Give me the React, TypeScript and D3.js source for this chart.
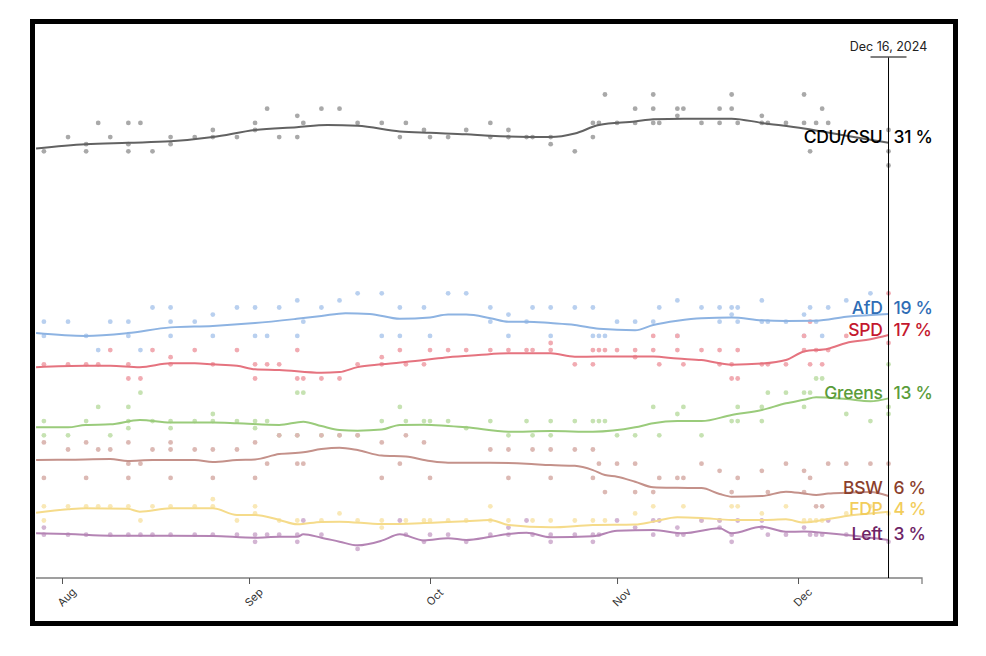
import React, { useEffect, useRef } from 'react';
import * as d3 from 'd3';

type Pt = [number, number]; // [days since Aug 1 2024, percent]

// polls (dots)
const cduPolls: Pt[] = [[-3,30],[1,31],[4,30.5],[4,30],[6,32],[8,31],[11,32],[11,30.5],[11,30],[13,32],[15,30],[18,31],[18,30.5],[22,31],[25,31.5],[25,31],[29,31],[32,32],[32,31.5],[34,33],[36,31],[39,32.5],[39,31],[40,32],[43,33],[46,33],[49,32],[53,32],[56,31],[57,32],[60,31.5],[61,31],[64,31],[67,31.5],[71,32],[71,31],[74,31.5],[74,31],[77,31],[78,31],[81,31],[81,30.5],[85,30],[88,32],[88,31],[89,32],[90,34],[92,32],[95,33],[95,32],[98,34],[98,33],[98,32],[99,32],[102,33],[102,32.5],[103,33],[106,32],[109,33],[109,32],[111,34],[111,33],[112,32],[116,32.5],[116,32],[117,32],[120,32],[123,34],[123,32],[124,30],[125,32],[126,33],[127,32],[137,31.5],[137,30],[137,29]];
const afdPolls: Pt[] = [[-3,18],[-3,17],[1,18],[4,17],[6,16],[8,18],[11,18],[11,17],[13,16],[15,19],[18,19],[18,18],[18,17],[22,18],[25,18.5],[25,17],[29,19],[32,19],[32,17],[34,17],[36,19],[39,19.5],[39,17],[40,18],[43,19],[46,19.5],[49,20],[53,20],[53,17],[56,19],[56,17],[60,19],[61,17],[64,20],[67,20],[71,19],[71,18],[74,18.5],[74,17],[77,18],[78,19],[81,19],[81,17],[85,19],[88,19],[88,17],[89,17],[90,17],[92,18],[95,18],[98,18],[99,19],[102,19.5],[102,17],[106,19],[109,19],[109,18],[111,19],[111,18.5],[112,19],[112,18],[116,19.5],[116,18],[117,18],[120,18],[123,18.5],[123,17],[124,19],[125,18],[126,17],[127,19],[130,19.5],[134,20]];
const spdPolls: Pt[] = [[-3,15],[1,15],[4,15],[6,15],[8,16],[11,15],[11,14],[13,14],[15,16],[18,15.5],[18,15],[22,16],[25,15],[29,16],[32,15],[32,14],[34,15],[36,15],[39,16],[39,14],[40,14],[43,14],[46,14],[49,15],[53,15.5],[53,15],[56,16],[57,15],[60,15],[61,16],[64,16],[67,16],[71,16],[74,16],[77,16],[78,16],[81,16],[81,16.5],[85,15],[88,16],[88,15],[89,16],[90,16],[92,16],[95,16],[95,15.5],[98,17],[98,16],[99,15],[102,16],[102,17],[103,15],[106,16],[109,16],[109,15],[111,14],[111,15],[112,14],[112,16],[116,15],[117,15],[120,15],[123,17],[123,16],[124,18],[124,15],[125,16],[126,15],[127,16],[130,17],[137,20],[137,16.5]];
const greensPolls: Pt[] = [[-3,11],[-3,10],[1,10],[4,11],[6,12],[8,10],[11,12],[11,11],[11,10.5],[13,13],[15,11],[18,11],[18,10.5],[22,11],[25,11.5],[25,11],[29,11],[32,11],[32,10.5],[34,11],[36,10],[39,13],[39,10],[40,13],[43,10],[46,10],[49,10],[53,11],[56,12],[57,11],[60,11],[61,11],[64,11],[67,10.5],[71,11],[74,10],[77,11],[78,10],[81,11],[81,10],[85,11],[88,11],[89,11],[90,11],[92,10],[95,10],[98,12],[99,10],[102,11.5],[103,12],[106,10],[111,11],[112,12],[112,11],[116,12],[116,11],[117,13],[120,13],[123,13],[123,12],[124,13],[125,14],[126,14],[130,11.5],[134,11],[137,15],[137,12],[137,11.5]];
const bswPolls: Pt[] = [[-3,9.5],[-3,7],[1,9],[4,9.5],[4,7],[6,9],[8,9],[11,9.5],[11,8],[11,7],[13,8],[15,9],[18,9.5],[18,9],[18,7],[22,9],[25,9],[25,7],[29,9],[32,9.5],[32,7],[34,8],[36,10],[39,10],[39,8],[40,8],[43,10],[46,10],[49,10],[53,9.5],[53,7],[56,8],[57,10],[60,9.5],[61,7],[71,9],[74,9],[74,7],[78,9],[81,9],[81,7],[85,9],[88,9],[88,7],[89,8],[90,6],[92,8],[95,8],[95,6],[98,6],[99,7],[102,7],[103,7],[106,8],[109,7.5],[111,6],[112,7],[116,7.5],[117,6],[120,8],[123,7.5],[123,6],[124,7],[125,5],[126,5],[127,8],[130,8],[134,8],[137,8]];
const fdpPolls: Pt[] = [[-3,5],[-3,4],[1,5],[4,5],[6,5],[8,5],[11,5],[13,4],[15,5],[18,5],[22,5],[25,5.5],[25,5],[29,4],[32,5],[32,4.5],[36,4],[39,4],[43,4],[46,4.5],[49,4],[53,4],[53,3.5],[57,4],[60,4],[61,4],[64,4],[67,4],[71,5],[71,4],[74,4],[78,4],[81,4],[85,4],[88,4],[90,4],[95,4.5],[98,5],[103,5],[106,4],[109,4],[111,5],[112,5],[116,4.5],[120,5],[123,4],[124,4],[125,4],[126,4],[130,4.5],[134,5],[137,4.5]];
const leftPolls: Pt[] = [[-3,3.5],[-3,3],[1,3],[4,3],[8,3],[11,3],[13,3],[15,3],[18,3],[22,3],[25,3],[29,3],[32,3],[32,2.5],[34,3],[36,3],[39,3],[39,2.5],[40,4],[43,3],[49,2],[56,4],[57,3],[60,2.5],[61,3],[64,3],[67,2.5],[71,3],[74,3.5],[74,3],[77,4],[78,3],[81,3],[81,2.5],[85,3],[88,3],[88,2.5],[89,3],[92,4],[95,3.5],[98,4],[98,3],[99,4],[102,3.5],[102,3],[103,3],[106,4],[109,4],[109,3.5],[111,3],[111,2.5],[112,4],[116,4],[116,3.5],[117,3],[120,3],[123,3.5],[124,3],[125,3],[126,3],[127,4],[130,3],[137,2.5]];

// smoothed trend lines
const cduTrend: Pt[] = [[-4.3,30.2],[3.9,30.5],[10.9,30.6],[18,30.7],[25,31],[32,31.5],[38.9,31.7],[44,31.85],[49,31.8],[56,31.4],[61,31.3],[67,31.2],[71,31.1],[81,31],[85,31.25],[89,31.85],[95,32.1],[98,32.25],[103,32.3],[111,32.3],[116,32],[123,31.6],[130,31.1],[137,30.6]];
const afdTrend: Pt[] = [[-4.3,17.2],[3.9,17],[10.9,17.2],[18,17.6],[25,17.7],[32,17.9],[38.9,18.2],[43,18.4],[47,18.6],[51,18.55],[56,18.2],[61,18.3],[64,18.5],[67,18.5],[71,18.25],[74,18],[77,18],[81,17.9],[85,17.77],[89,17.5],[95,17.4],[98,17.77],[102,18.07],[106,18.25],[111,18.3],[116,18.1],[120,18.05],[125,18.07],[130,18.35],[137,18.55]];
const spdTrend: Pt[] = [[-4.3,14.8],[3.9,14.9],[8,14.9],[12.9,14.8],[18,15.07],[22,15.07],[25,15],[29,14.9],[32,14.65],[36,14.6],[43,14.4],[46,14.45],[49,14.8],[53,15],[60,15.3],[64,15.5],[69,15.65],[74,15.77],[81,15.77],[85,15.53],[89,15.55],[98,15.55],[102,15.4],[106,15.3],[111,14.97],[116,15.05],[120,15.3],[123,15.9],[127,16.1],[130,16.5],[134,16.76],[137,17.06]];
const greensTrend: Pt[] = [[-4.3,10.56],[1,10.56],[3.9,10.73],[8,10.77],[12.9,11.08],[18,10.9],[25,10.9],[29,10.85],[36,10.73],[40,10.96],[43,10.65],[46,10.37],[49,10.32],[53,10.4],[56,10.73],[60,10.75],[64,10.65],[67,10.56],[74,10.25],[81,10.3],[88,10.25],[95,10.56],[98,10.85],[102,11],[106,11],[111,11.43],[116,11.78],[120,12.25],[123,12.5],[125,12.68],[130,12.55],[134,12.4],[137,12.6]];
const bswTrend: Pt[] = [[-4.3,8.26],[1,8.28],[8,8.33],[10.9,8.19],[15,8.26],[22,8.26],[25,8.12],[29,8.26],[32,8.3],[36,8.68],[40,8.8],[43,9.03],[46,9.13],[49,8.96],[53,8.57],[57,8.5],[61,8.19],[64,8.07],[71,8.07],[77,8],[81,7.9],[85,7.85],[88,7.55],[90,7.2],[92,7.08],[95,6.73],[98,6.34],[102,6.3],[106,6.28],[109,5.87],[111,5.68],[116,5.72],[120,6.03],[123,5.9],[125,5.8],[127,5.9],[130,5.95],[134,6],[137,5.73]];
const fdpTrend: Pt[] = [[-4.3,4.55],[1,4.79],[3.9,4.86],[10.9,4.82],[12.9,4.62],[18,4.86],[25,4.86],[29,4.39],[32,4.39],[36,4.04],[39,3.73],[43,3.9],[46,3.92],[53,3.75],[60,3.82],[67,3.95],[71,4.04],[74,3.68],[81,3.52],[88,3.68],[95,3.72],[98,3.92],[102,4.23],[106,4.18],[111,4.04],[116,4.04],[120,4.08],[123,3.86],[127,4.1],[130,4.32],[134,4.5],[137,4.62]];
const leftTrend: Pt[] = [[-4.3,3.1],[1,3.05],[8,2.93],[18,2.93],[25,2.91],[32,2.79],[36,2.85],[39,2.85],[40,3.03],[43,2.79],[46,2.51],[49,2.25],[53,2.58],[56,3.03],[60,2.6],[64,2.75],[67,2.63],[71,2.85],[74,3.05],[77,3.14],[81,2.82],[88,2.89],[92,3.28],[98,3.33],[103,3.1],[109,3.45],[111,3.1],[116,3.56],[120,3.21],[123,3.22],[127,3.1],[130,2.98],[137,2.63]];

const parties = ['CDU/CSU', 'AfD', 'SPD', 'Greens', 'BSW', 'FDP', 'Left'];
const latestValues = ['31 %', '19 %', '17 %', '13 %', '6 %', '4 %', '3 %'];
const pollSets = [cduPolls, afdPolls, spdPolls, greensPolls, bswPolls, fdpPolls, leftPolls];
const trendSets = [cduTrend, afdTrend, spdTrend, greensTrend, bswTrend, fdpTrend, leftTrend];
const monthTicks = ['Aug', 'Sep', 'Oct', 'Nov', 'Dec'];
const markerLabel = 'Dec 16, 2024';
const markerDay = 137;

const lineColors = ['#626262', '#8db3e2', '#e5737f', '#9acb7b', '#c4918a', '#f5db8a', '#b484b4'];
const dotColors = ['#a9a9a9', '#b9d0ef', '#f1abb2', '#c6e2b2', '#dcb9b4', '#f9e8b6', '#d3b5d3'];
const labelColors = ['#000000', '#2f6db5', '#c4172e', '#5a9c3a', '#8b3f2c', '#f2cd5c', '#6e2466'];

const dayToDate = (d: number) => new Date(new Date(2024, 7, 1).getTime() + d * 86400000);

const App: React.FC = () => {
  const svgRef = useRef<SVGSVGElement>(null);

  useEffect(() => {
    const svg = d3.select(svgRef.current);
    svg.selectAll('*').remove();

    const x = d3.scaleTime()
      .domain([dayToDate(-4.31), dayToDate(142.55)])
      .range([36, 922]);
    const y = d3.scaleLinear()
      .domain([0, 36.64])
      .range([577.3, 57]);

    const font = 'Inter, "Noto Sans", sans-serif';

    // dots
    pollSets.forEach((polls, i) => {
      svg.append('g')
        .selectAll('circle')
        .data(polls)
        .enter().append('circle')
        .attr('cx', d => x(dayToDate(d[0])))
        .attr('cy', d => y(d[1]))
        .attr('r', 2.4)
        .attr('fill', dotColors[i]);
    });

    // trend lines
    const line = d3.line<Pt>()
      .x(d => x(dayToDate(d[0])))
      .y(d => y(d[1]))
      .curve(d3.curveMonotoneX);

    trendSets.forEach((trend, i) => {
      svg.append('path')
        .datum(trend)
        .attr('fill', 'none')
        .attr('stroke', lineColors[i])
        .attr('stroke-width', 2)
        .attr('d', line);
    });

    // x axis
    const axis = svg.append('g')
      .attr('transform', 'translate(0,578)')
      .call(d3.axisBottom(x)
        .ticks(d3.timeMonth.every(1))
        .tickFormat((d, i) => monthTicks[i] ?? '')
        .tickSize(6)
        .tickSizeOuter(6));
    axis.select('.domain')
      .attr('d', `M${x.range()[0]},0H${x.range()[1]}V6`)
      .attr('stroke', '#808080')
      .attr('stroke-width', 1.3);
    axis.selectAll('.tick line').attr('stroke', '#555');
    axis.selectAll('.tick text')
      .attr('y', 0)
      .attr('dy', 0)
      .attr('transform', 'translate(7,22) rotate(-45)')
      .style('text-anchor', 'middle')
      .style('font-family', font)
      .style('font-size', '11px')
      .attr('fill', '#333');

    // marker for latest date
    const mx = x(dayToDate(markerDay));
    svg.append('line')
      .attr('x1', mx).attr('x2', mx)
      .attr('y1', 57).attr('y2', 578)
      .attr('stroke', '#000').attr('stroke-width', 1);
    svg.append('line')
      .attr('x1', mx - 18).attr('x2', mx + 18)
      .attr('y1', 57).attr('y2', 57)
      .attr('stroke', '#555').attr('stroke-width', 1.5);
    svg.append('text')
      .attr('x', mx).attr('y', 50.5)
      .attr('text-anchor', 'middle')
      .style('font-family', font)
      .style('font-size', '12.5px')
      .attr('fill', '#222')
      .text(markerLabel);

    // end labels, nudged apart so they don't collide
    const minGap = 21;
    const labelY = trendSets.map(t => y(t[t.length - 1][1]) + 0.5);
    for (let pass = 0; pass < 20; pass++) {
      for (let i = 0; i < labelY.length - 1; i++) {
        const gap = labelY[i + 1] - labelY[i];
        if (gap < minGap) {
          const shift = (minGap - gap) / 2;
          labelY[i] -= shift;
          labelY[i + 1] += shift;
        }
      }
    }

    trendSets.forEach((_, i) => {
      const ly = labelY[i];
      svg.append('text')
        .attr('x', mx - 6).attr('y', ly)
        .attr('text-anchor', 'end')
        .style('font-family', font)
        .style('font-size', '17.5px')
        .style('font-weight', 500)
        .style('letter-spacing', '-0.3px')
        .attr('fill', labelColors[i])
        .text(parties[i]);
      svg.append('text')
        .attr('x', mx + 5).attr('y', ly)
        .attr('text-anchor', 'start')
        .style('font-family', font)
        .style('font-size', '17.5px')
        .style('font-weight', 500)
        .style('letter-spacing', '-0.3px')
        .attr('fill', labelColors[i])
        .text(latestValues[i]);
    });

    // frame
    svg.append('rect')
      .attr('x', 32.5).attr('y', 21.5)
      .attr('width', 923).attr('height', 602)
      .attr('fill', 'none')
      .attr('stroke', '#000')
      .attr('stroke-width', 5);
  }, []);

  return (
    <svg
      ref={svgRef}
      width={986}
      height={656}
      style={{ position: 'absolute', left: 0, top: 0, background: '#fff' }}
    />
  );
};

export default App;
